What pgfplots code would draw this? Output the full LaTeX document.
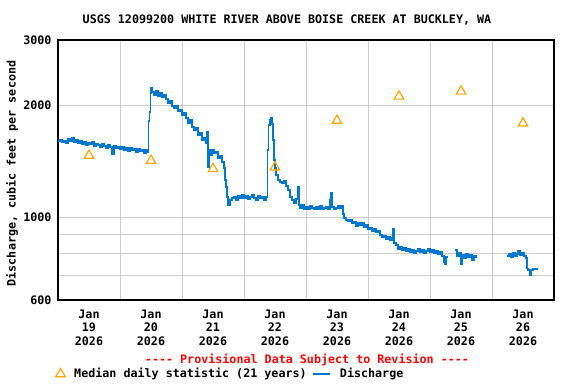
\documentclass[border=0pt]{standalone}
\usepackage{fontspec}
\setmainfont{DejaVu Sans Mono}[Ligatures=TeXOff]
\usepackage{pgfplots}
\usepackage{pgfplotstable}
\pgfplotsset{compat=1.18}
\definecolor{qline}{HTML}{0077CC}
\definecolor{qtri}{HTML}{FFA500}
\definecolor{qgrid}{HTML}{CCCCCC}
\newcommand\ff{\fontsize{11.7pt}{13.4pt}\selectfont\bfseries}
\pgfplotstableread{
d q
0.000 1606
0.032 1616
0.065 1596
0.097 1606
0.129 1586
0.161 1626
0.194 1606
0.226 1636
0.258 1596
0.290 1616
0.323 1586
0.355 1606
0.387 1576
0.419 1596
0.452 1567
0.484 1586
0.516 1576
0.548 1596
0.581 1557
0.613 1576
0.645 1567
0.677 1547
0.710 1576
0.742 1557
0.774 1538
0.806 1567
0.839 1547
0.871 1482
0.903 1557
0.935 1538
0.968 1547
1.000 1528
1.032 1547
1.065 1519
1.097 1538
1.129 1509
1.161 1538
1.194 1519
1.226 1528
1.258 1500
1.290 1528
1.323 1509
1.355 1519
1.387 1491
1.419 1519
1.452 1500
1.460 1817
1.476 1921
1.489 2161
1.500 2229
1.516 2174
1.548 2134
1.581 2188
1.613 2121
1.645 2161
1.677 2108
1.710 2134
1.742 2082
1.774 2031
1.806 2057
1.839 1994
1.871 1970
1.903 1994
1.935 1933
1.968 1945
2.000 1886
2.032 1910
2.065 1851
2.097 1795
2.129 1829
2.161 1751
2.194 1719
2.226 1740
2.258 1667
2.290 1687
2.323 1616
2.355 1636
2.387 1586
2.403 1698
2.419 1367
2.435 1519
2.452 1472
2.484 1519
2.516 1491
2.548 1500
2.581 1445
2.613 1463
2.645 1410
2.677 1359
2.694 1261
2.710 1208
2.726 1135
2.742 1080
2.774 1114
2.806 1128
2.839 1135
2.871 1114
2.903 1143
2.935 1128
2.968 1150
3.000 1128
3.032 1143
3.065 1121
3.097 1135
3.129 1150
3.161 1128
3.194 1114
3.226 1143
3.258 1128
3.290 1135
3.323 1114
3.355 1135
3.379 1519
3.395 1773
3.419 1829
3.435 1851
3.452 1784
3.468 1616
3.484 1428
3.500 1359
3.516 1301
3.548 1261
3.581 1246
3.613 1231
3.645 1254
3.677 1215
3.710 1186
3.742 1135
3.774 1114
3.806 1094
3.839 1121
3.871 1208
3.887 1080
3.903 1061
3.935 1080
3.968 1048
4.000 1067
4.032 1054
4.065 1074
4.097 1061
4.129 1048
4.161 1067
4.194 1054
4.226 1074
4.258 1048
4.290 1061
4.323 1067
4.355 1054
4.387 1114
4.403 1164
4.419 1067
4.452 1048
4.484 1061
4.516 1074
4.548 1061
4.581 1074
4.597 1022
4.613 997
4.645 985
4.677 973
4.710 985
4.742 961
4.774 973
4.806 949
4.839 967
4.871 955
4.903 967
4.935 943
4.968 955
5.000 931
5.032 937
5.065 920
5.097 931
5.129 909
5.161 920
5.194 897
5.226 886
5.258 892
5.290 875
5.323 886
5.355 870
5.387 881
5.403 931
5.419 854
5.452 843
5.484 823
5.516 833
5.548 818
5.581 828
5.613 813
5.645 823
5.677 808
5.710 818
5.742 803
5.774 813
5.806 823
5.839 808
5.871 818
5.903 803
5.935 813
5.968 823
6.000 808
6.032 818
6.065 803
6.097 813
6.129 798
6.161 808
6.194 788
6.226 759
6.242 750
6.258 783
6.274 778
6.300 nan
6.403 818
6.435 788
6.468 803
6.500 750
6.516 793
6.548 778
6.581 798
6.613 783
6.645 793
6.677 769
6.710 788
6.742 778
6.800 nan
7.242 788
7.274 798
7.306 783
7.339 803
7.371 788
7.403 798
7.419 813
7.452 793
7.484 803
7.516 788
7.548 778
7.565 731
7.581 722
7.613 700
7.629 722
7.661 731
7.694 727
7.726 731
}\discharge
\pgfplotstableread{
d q
0.5 1467
1.5 1422
2.5 1351
3.5 1365
4.5 1822
5.5 2116
6.5 2183
7.5 1791
}\median
\begin{document}
\begin{tikzpicture}[x=1pt,y=1pt]
\path[use as bounding box] (0,0) rectangle (576,384);
\begin{axis}[
  at={(58pt,84pt)}, anchor=south west,
  scale only axis, width=496pt, height=260pt,
  xmin=0, xmax=8,
  ymode=log, ymin=600, ymax=3000,
  ytick={600,700,800,900,1000,2000,3000},
  yticklabels={600,,,,1000,2000,3000},
  yminorticks=false,
  xtick={0.5,1.5,...,7.5},
  xticklabels={Jan\\19\\2026,Jan\\20\\2026,Jan\\21\\2026,Jan\\22\\2026,Jan\\23\\2026,Jan\\24\\2026,Jan\\25\\2026,Jan\\26\\2026},
  minor xtick={1,2,...,7},
  xminorgrids=true, ymajorgrids=true, xmajorgrids=false,
  grid style={qgrid, line width=1pt},
  minor grid style={qgrid, line width=1pt},
  major tick length=0pt, minor tick length=0pt,
  axis line style={black, line width=1.3pt},
  tick label style={font=\ff},
  xticklabel style={align=center, yshift=-6.5pt},
  yticklabel style={xshift=-3pt},
  /pgf/number format/assume math mode=true,
  ylabel={Discharge, cubic feet per second},
  ylabel style={font=\ff, at={(axis description cs:-0.0927,0.4865)}, anchor=center, rotate=0},
  unbounded coords=jump,
  legend columns=2,
  legend style={draw=none, fill=none, font=\ff, at={(axis description cs:-0.005,-0.2846)}, anchor=west, inner sep=0pt,
    /tikz/every odd column/.append style={column sep=7pt},
    /tikz/every even column/.append style={column sep=4pt}},
  clip=false,
]
\addplot[const plot, qline, line width=1.2pt, forget plot] table[x=d,y=q] {\discharge};
\addplot[only marks, mark=triangle, mark size=5.5pt, mark options={qtri, line width=1.2pt, fill=none}] table[x=d,y=q] {\median};
\addlegendentry{Median daily statistic (21 years)}
\addlegendimage{qline, line width=1.2pt}
\addlegendentry{Discharge}
\node[font=\ff, anchor=center] at (axis description cs:0.4617,1.0769) {USGS 12099200 WHITE RIVER ABOVE BOISE CREEK AT BUCKLEY, WA};
\node[font=\ff, text=red, anchor=center] at (axis description cs:0.502,-0.2308) {---- Provisional Data Subject to Revision ----};
\end{axis}
\end{tikzpicture}
\end{document}
